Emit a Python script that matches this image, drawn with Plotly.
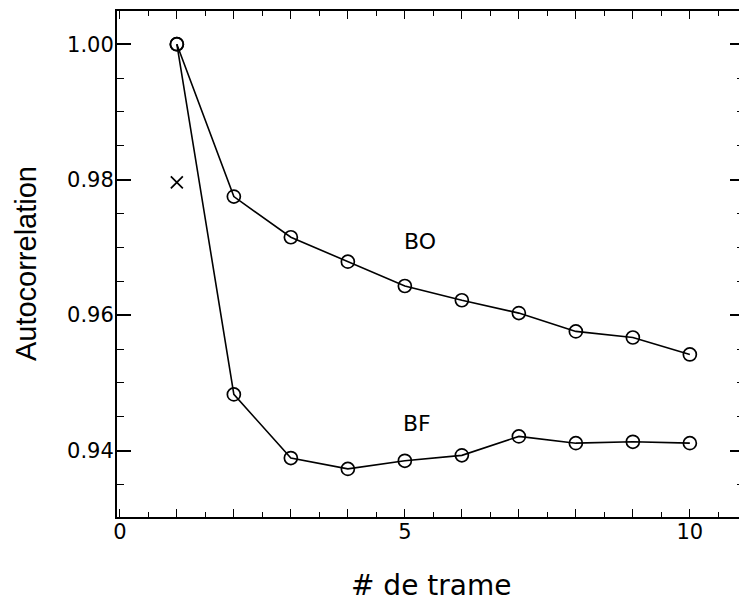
import plotly.graph_objects as go

frames = [1, 2, 3, 4, 5, 6, 7, 8, 9, 10]
bo_values = [1.000, 0.9775, 0.9715, 0.9679, 0.9643, 0.9622, 0.9603, 0.9576, 0.9567, 0.9542]
bf_values = [1.000, 0.9483, 0.9389, 0.9373, 0.9385, 0.9393, 0.9421, 0.9411, 0.9413, 0.9411]
cross_x = [1]
cross_y = [0.9796]

x_tickvals = [0, 1, 2, 3, 4, 5, 6, 7, 8, 9, 10]
x_ticktext = ["0", "", "", "", "", "5", "", "", "", "", "10"]
y_tickvals = [0.94, 0.96, 0.98, 1.00]
y_ticktext = ["0.94", "0.96", "0.98", "1.00"]

fig = go.Figure()
for vals in (bo_values, bf_values):
    fig.add_trace(go.Scatter(
        x=frames, y=vals, mode="lines+markers",
        line=dict(color="black", width=1.6),
        marker=dict(symbol="circle-open", size=13, color="black", line=dict(width=1.7)),
        showlegend=False, hoverinfo="skip"))
fig.add_trace(go.Scatter(
    x=cross_x, y=cross_y, mode="markers",
    marker=dict(symbol="x-thin-open", size=12, color="black", line=dict(width=1.7, color="black")),
    showlegend=False, hoverinfo="skip"))

tick_font = dict(family="DejaVu Sans", size=21, color="black")

fig.update_xaxes(
    range=[-0.05, 10.95], showgrid=False, zeroline=False,
    showline=True, linecolor="black", linewidth=2, mirror="ticks",
    tickmode="array", tickvals=x_tickvals, ticktext=x_ticktext,
    ticks="inside", ticklen=8, tickwidth=1.3, tickcolor="black",
    tickfont=tick_font, ticklabelstandoff=-5,
    minor=dict(dtick=0.5, tick0=0, ticks="inside", ticklen=5, tickwidth=1.2, tickcolor="black", showgrid=False),
)
fig.update_yaxes(
    range=[0.9302, 1.0049], showgrid=False, zeroline=False,
    showline=True, linecolor="black", linewidth=2, mirror="ticks",
    tickmode="array", tickvals=y_tickvals, ticktext=y_ticktext,
    ticks="inside", ticklen=14, tickwidth=1.5, tickcolor="black",
    tickfont=tick_font, ticklabelstandoff=-3,
    minor=dict(dtick=0.005, tick0=0.94, ticks="inside", ticklen=7, tickwidth=1.3, tickcolor="black", showgrid=False),
)

fig.add_annotation(x=5.26, y=0.9709, xref="x", yref="y", text="BO", showarrow=False,
                   font=dict(family="DejaVu Sans", size=22, color="black"))
fig.add_annotation(x=5.21, y=0.9440, xref="x", yref="y", text="BF", showarrow=False,
                   font=dict(family="DejaVu Sans", size=22, color="black"))
fig.add_annotation(x=-0.145, y=0.5, xref="paper", yref="paper", text="Autocorrelation",
                   textangle=-90, showarrow=False, xanchor="center", yanchor="middle",
                   font=dict(family="Liberation Sans", size=29, color="black"))
fig.add_annotation(x=0.5, y=-0.135, xref="paper", yref="paper", text="# de trame",
                   showarrow=False, xanchor="center", yanchor="middle",
                   font=dict(family="DejaVu Sans", size=28, color="black"))

fig.update_layout(
    width=739, height=601,
    margin=dict(l=109, r=1, t=2, b=92),
    paper_bgcolor="white", plot_bgcolor="white",
)
fig.write_html("out.html")
